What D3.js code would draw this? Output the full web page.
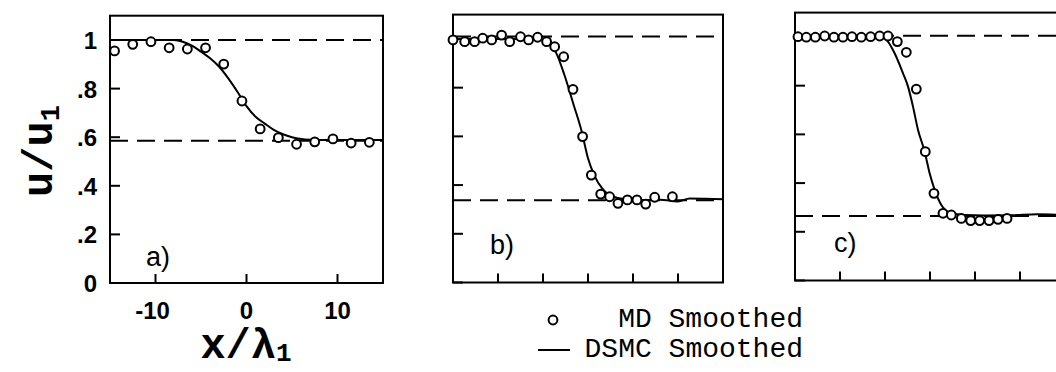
<!DOCTYPE html>
<html lang="en">
<head>
    <meta charset="UTF-8">
    <title>u/u1 profiles: MD vs DSMC</title>
    <script src="https://d3js.org/d3.v7.min.js"></script>
    <style>
        body { margin: 0; background: #fff; }
        .frame { fill: none; stroke: #000; stroke-width: 2px; }
        .tick { stroke: #000; stroke-width: 2px; }
        .dsmc { fill: none; stroke: #000; stroke-width: 2px; }
        .ref { stroke: #000; stroke-width: 2px; stroke-dasharray: 18 9; }
        .md { fill: #fff; stroke: #000; stroke-width: 2px; }
        .ticklabel { font-family: "Liberation Sans", Arial, sans-serif; font-weight: bold; font-size: 24px; }
        .panel-label { font-family: "Liberation Sans", Arial, sans-serif; font-size: 27px; }
        .title { font-family: "Liberation Mono", "Courier New", monospace; font-weight: bold; font-size: 42px; }
        .legend { font-family: "Liberation Mono", "Courier New", monospace; font-size: 28px; }
    </style>
</head>
<body>
    <svg id="chart" width="1056" height="372"></svg>

    <script>
        // tick values
        const xTicksA = [-10, 0, 10];
        const xTicksBC = [-10, -5, 0, 5, 10];
        const yTicks = [0, 0.2, 0.4, 0.6, 0.8, 1];
        const yTickLabels = ["0", ".2", ".4", ".6", ".8", "1"];

        // panel a) -- MD points and DSMC curve
        const mdA = [[-14.5, 0.955], [-12.5, 0.982], [-10.5, 0.993], [-8.5, 0.968], [-6.5, 0.963],
            [-4.5, 0.968], [-2.5, 0.901], [-0.5, 0.749], [1.5, 0.634], [3.5, 0.598],
            [5.5, 0.571], [7.5, 0.581], [9.5, 0.593], [11.5, 0.576], [13.5, 0.579]];
        const dsmcA = [[-15, 1.0], [-8, 1.0], [-7, 0.993], [-6, 0.977], [-5, 0.952], [-4, 0.925],
            [-3, 0.89], [-2, 0.842], [-1, 0.787], [0, 0.728], [1, 0.684], [2, 0.656], [3, 0.63],
            [4, 0.612], [5, 0.6], [6, 0.593], [7, 0.59], [9, 0.588], [15, 0.588]];
        const levelsA = [1.0, 0.585];

        // panel b)
        const mdB = [[-15.0, 0.996], [-13.7, 0.989], [-12.6, 0.989], [-11.7, 1.003], [-10.7, 0.996],
            [-9.6, 1.016], [-8.7, 0.989], [-7.5, 1.009], [-6.6, 0.996], [-5.6, 1.007], [-4.6, 0.989],
            [-3.7, 0.968], [-2.7, 0.927], [-1.67, 0.793], [-0.6, 0.599], [0.37, 0.441], [1.41, 0.363],
            [2.4, 0.352], [3.33, 0.325], [4.38, 0.339], [5.44, 0.339], [6.41, 0.322], [7.41, 0.35],
            [9.38, 0.352]];
        const dsmcB = [[-15, 1.0], [-5.5, 1.0], [-4.5, 0.99], [-3.5, 0.94], [-2.6, 0.85], [-1.6, 0.73],
            [-0.7, 0.62], [0, 0.51], [0.7, 0.44], [1.6, 0.385], [2.8, 0.352], [4.3, 0.342], [6, 0.338],
            [8, 0.34], [10, 0.333], [11.3, 0.345], [13, 0.344], [15, 0.342]];
        const levelsB = [1.01, 0.338];

        // panel c)
        const mdC = [[-14.67, 1.001], [-13.74, 0.999], [-12.74, 0.999], [-11.7, 1.004], [-10.67, 0.999],
            [-9.67, 0.999], [-8.67, 1.001], [-7.63, 0.999], [-6.6, 1.001], [-5.59, 1.004], [-4.67, 1.004],
            [-3.63, 0.981], [-2.63, 0.937], [-1.52, 0.786], [-0.52, 0.529], [0.44, 0.358], [1.44, 0.276],
            [2.37, 0.269], [3.48, 0.255], [4.52, 0.246], [5.52, 0.246], [6.56, 0.246], [7.56, 0.251],
            [8.56, 0.255]];
        const dsmcC = [[-15, 1.0], [-5.3, 1.0], [-4.67, 0.981], [-3.93, 0.933], [-3.0, 0.851], [-2.44, 0.796],
            [-1.89, 0.714], [-1.33, 0.618], [-0.59, 0.529], [-0.04, 0.44], [0.52, 0.372], [1.26, 0.31],
            [2.37, 0.276], [3.85, 0.269], [6, 0.267], [9, 0.268], [11.9, 0.272], [15, 0.269]];
        const levelsC = [1.005, 0.265];

        const panels = [
            { name: "a)", md: mdA, dsmc: dsmcA, levels: levelsA, xTicks: xTicksA, left: 110, right: 383, top: 15.7, bottom: 283, labelled: true, lx: 146, ly: 266 },
            { name: "b)", md: mdB, dsmc: dsmcB, levels: levelsB, xTicks: xTicksBC, left: 453, right: 723, top: 14.6, bottom: 282.5, labelled: false, lx: 490, ly: 254 },
            { name: "c)", md: mdC, dsmc: dsmcC, levels: levelsC, xTicks: xTicksBC, left: 795, right: 1065, top: 12.6, bottom: 280.5, labelled: false, lx: 834, ly: 252 }
        ];

        const svg = d3.select("#chart");

        panels.forEach(p => {
            const x = d3.scaleLinear().domain([-15, 15]).range([p.left, p.right]);
            const y = d3.scaleLinear().domain([0, 1.1]).range([p.bottom, p.top]);
            const g = svg.append("g");

            // dashed reference levels
            g.selectAll(".ref")
                .data(p.levels)
                .enter()
                .append("line")
                .attr("class", "ref")
                .attr("x1", x(-15))
                .attr("x2", x(15))
                .attr("y1", d => y(d))
                .attr("y2", d => y(d));

            // frame
            g.append("rect")
                .attr("class", "frame")
                .attr("x", x(-15))
                .attr("y", y(1.1))
                .attr("width", x(15) - x(-15))
                .attr("height", y(0) - y(1.1));

            // inward ticks
            g.selectAll(".ytick")
                .data(yTicks)
                .enter()
                .append("line")
                .attr("class", "tick")
                .attr("x1", x(-15))
                .attr("x2", x(-15) + 10)
                .attr("y1", d => y(d))
                .attr("y2", d => y(d));

            g.selectAll(".xtick")
                .data(p.xTicks)
                .enter()
                .append("line")
                .attr("class", "tick")
                .attr("x1", d => x(d))
                .attr("x2", d => x(d))
                .attr("y1", y(0))
                .attr("y2", y(0) - 9);

            if (p.labelled) {
                g.selectAll(".ylab")
                    .data(yTicks)
                    .enter()
                    .append("text")
                    .attr("class", "ticklabel")
                    .attr("x", x(-15) - 13)
                    .attr("y", d => y(d) + 9)
                    .attr("text-anchor", "end")
                    .text((d, i) => yTickLabels[i]);

                g.selectAll(".xlab")
                    .data(p.xTicks)
                    .enter()
                    .append("text")
                    .attr("class", "ticklabel")
                    .attr("x", d => x(d) - (d < 0 ? 3 : 0))
                    .attr("y", 319)
                    .attr("text-anchor", "middle")
                    .text(d => d);
            }

            // DSMC curve
            const line = d3.line()
                .x(d => x(d[0]))
                .y(d => y(d[1]))
                .curve(d3.curveMonotoneX);

            g.append("path")
                .datum(p.dsmc)
                .attr("class", "dsmc")
                .attr("d", line);

            // MD points
            g.selectAll(".md")
                .data(p.md)
                .enter()
                .append("circle")
                .attr("class", "md")
                .attr("cx", d => x(d[0]))
                .attr("cy", d => y(d[1]))
                .attr("r", 4.4);

            g.append("text")
                .attr("class", "panel-label")
                .attr("x", p.lx)
                .attr("y", p.ly)
                .text(p.name);
        });

        // axis titles
        const yTitle = svg.append("text")
            .attr("class", "title")
            .attr("transform", "translate(52,151) rotate(-90)")
            .attr("text-anchor", "middle");
        yTitle.append("tspan").text("u/u");
        yTitle.append("tspan").attr("font-size", 27).attr("dy", 7).text("1");

        const xTitle = svg.append("text")
            .attr("class", "title")
            .attr("x", 246)
            .attr("y", 358)
            .attr("font-size", 40)
            .attr("text-anchor", "middle");
        xTitle.append("tspan").text("x/λ");
        xTitle.append("tspan").attr("font-size", 26).attr("dy", 3).text("1");

        // legend
        svg.append("circle")
            .attr("class", "md")
            .attr("cx", 553)
            .attr("cy", 320)
            .attr("r", 4.4);
        svg.append("text")
            .attr("class", "legend")
            .attr("x", 803)
            .attr("y", 327)
            .attr("text-anchor", "end")
            .text("MD Smoothed");

        svg.append("line")
            .attr("class", "dsmc")
            .attr("x1", 538)
            .attr("x2", 570)
            .attr("y1", 350)
            .attr("y2", 350);
        svg.append("text")
            .attr("class", "legend")
            .attr("x", 803)
            .attr("y", 357)
            .attr("text-anchor", "end")
            .text("DSMC Smoothed");
    </script>
</body>
</html>
